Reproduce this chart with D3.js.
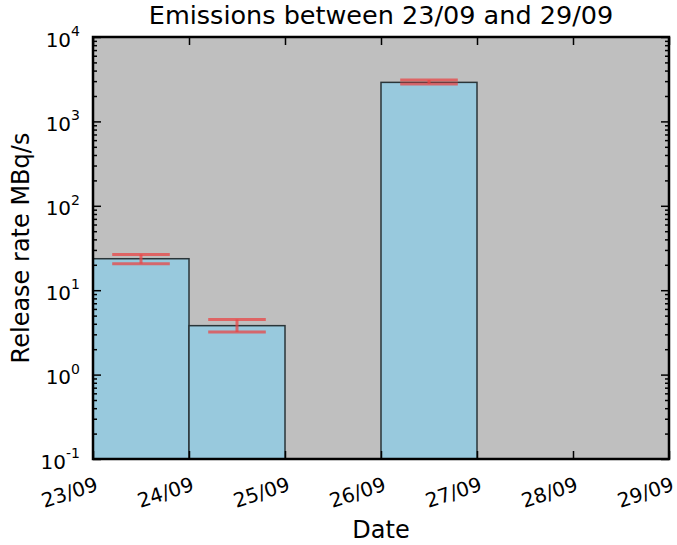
<!DOCTYPE html>
<html>
<head>
<meta charset="utf-8">
<script src="https://cdn.jsdelivr.net/npm/d3@7"></script>
<style>
  body { margin: 0; background: #fff; }
  text { font-family: "DejaVu Sans", sans-serif; fill: #000; }
</style>
</head>
<body>
<div id="chart"></div>
<script>
const width = 677;
const height = 545;
const margin = {top: 37, right: 8, bottom: 86, left: 93};

// data
const days = ["23/09", "24/09", "25/09", "26/09", "27/09", "28/09", "29/09"];
const releaseDays = ["23/09", "24/09", "26/09"];
const release = [23.6, 3.8, 2900];
const errLow = [20.6, 3.2, 2780];
const errHigh = [26.5, 4.5, 3100];
const decades = [0.1, 1, 10, 100, 1000, 10000];

let svg = d3.select("#chart").append("svg")
    .attr("width", width)
    .attr("height", height);

const x0 = margin.left, x1 = width - margin.right;
const y0 = height - margin.bottom, y1 = margin.top;

let x = d3.scalePoint()
    .domain(days)
    .range([x0, x1]);

let y = d3.scaleLog()
    .domain([0.1, 10000])
    .range([y0, y1]);

const step = x.step();

// background
svg.append("rect")
    .attr("x", x0).attr("y", y1)
    .attr("width", x1 - x0).attr("height", y0 - y1)
    .attr("fill", "#bfbfbf");

// bars
let rows = releaseDays.map((d, i) => ({day: d, v: release[i], lo: errLow[i], hi: errHigh[i]}));

svg.selectAll("rect.bar")
    .data(rows)
    .enter()
    .append("rect")
    .attr("class", "bar")
    .attr("x", d => x(d.day))
    .attr("y", d => y(d.v))
    .attr("width", step)
    .attr("height", d => y(0.1) - y(d.v))
    .attr("fill", "#98c9dd")
    .attr("stroke", "#2a3538")
    .attr("stroke-width", 1.5);

// error bars
const errColor = "rgba(232,70,70,0.75)";
let err = svg.selectAll("g.err")
    .data(rows)
    .enter()
    .append("g")
    .attr("class", "err")
    .attr("stroke", errColor)
    .attr("stroke-width", 3);

err.append("line")
    .attr("x1", d => x(d.day) + step / 2).attr("x2", d => x(d.day) + step / 2)
    .attr("y1", d => y(d.lo)).attr("y2", d => y(d.hi));
err.append("line")
    .attr("x1", d => x(d.day) + step * 0.2).attr("x2", d => x(d.day) + step * 0.8)
    .attr("y1", d => y(d.lo)).attr("y2", d => y(d.lo));
err.append("line")
    .attr("x1", d => x(d.day) + step * 0.2).attr("x2", d => x(d.day) + step * 0.8)
    .attr("y1", d => y(d.hi)).attr("y2", d => y(d.hi));

// minor log ticks
let minors = [];
decades.slice(0, -1).forEach(d => {
    for (let k = 2; k <= 9; k++) minors.push(d * k);
});

function styleAxis(g) {
    g.select(".domain").remove();
    g.selectAll(".tick line").attr("stroke", "#000").attr("stroke-width", 1.5);
}

svg.append("g")
    .attr("transform", `translate(${x0},0)`)
    .call(d3.axisLeft(y).tickValues(minors).tickSize(-4).tickFormat(""))
    .call(styleAxis);
svg.append("g")
    .attr("transform", `translate(${x1},0)`)
    .call(d3.axisRight(y).tickValues(minors).tickSize(-4).tickFormat(""))
    .call(styleAxis);
svg.append("g")
    .attr("transform", `translate(${x1},0)`)
    .call(d3.axisRight(y).tickValues(decades).tickSize(-8).tickFormat(""))
    .call(styleAxis);

// left major ticks with 10^n labels
let yAxis = svg.append("g")
    .attr("transform", `translate(${x0},0)`)
    .call(d3.axisLeft(y).tickValues(decades).tickSize(-8).tickPadding(13).tickFormat(""))
    .call(styleAxis);

yAxis.selectAll(".tick text").each(function(d) {
    let t = d3.select(this)
        .attr("font-size", 20)
        .attr("text-anchor", "end")
        .attr("dy", "0.45em");
    t.append("tspan").text("10");
    t.append("tspan")
        .attr("font-size", 14)
        .attr("dy", "-0.75em")
        .text(Math.round(Math.log10(d)));
});

// x ticks top and bottom
svg.append("g")
    .attr("transform", `translate(0,${y1})`)
    .call(d3.axisTop(x).tickSize(-8).tickFormat(""))
    .call(styleAxis);

let xAxis = svg.append("g")
    .attr("transform", `translate(0,${y0})`)
    .call(d3.axisBottom(x).tickSize(-8))
    .call(styleAxis);

xAxis.selectAll(".tick text")
    .attr("font-size", 20)
    .attr("text-anchor", "end")
    .attr("y", 0)
    .attr("dy", "0.9em")
    .attr("transform", "translate(0,14) rotate(-18)");

// frame
svg.append("rect")
    .attr("x", x0).attr("y", y1)
    .attr("width", x1 - x0).attr("height", y0 - y1)
    .attr("fill", "none")
    .attr("stroke", "#000")
    .attr("stroke-width", 2.5);

// title and axis labels
svg.append("text")
    .attr("x", (x0 + x1) / 2)
    .attr("y", 24)
    .attr("text-anchor", "middle")
    .attr("font-size", 25.5)
    .text("Emissions between 23/09 and 29/09");

svg.append("text")
    .attr("x", (x0 + x1) / 2)
    .attr("y", 538)
    .attr("text-anchor", "middle")
    .attr("font-size", 24)
    .text("Date");

svg.append("text")
    .attr("transform", `translate(29,${(y0 + y1) / 2}) rotate(-90)`)
    .attr("text-anchor", "middle")
    .attr("font-size", 24)
    .text("Release rate MBq/s");
</script>
</body>
</html>
